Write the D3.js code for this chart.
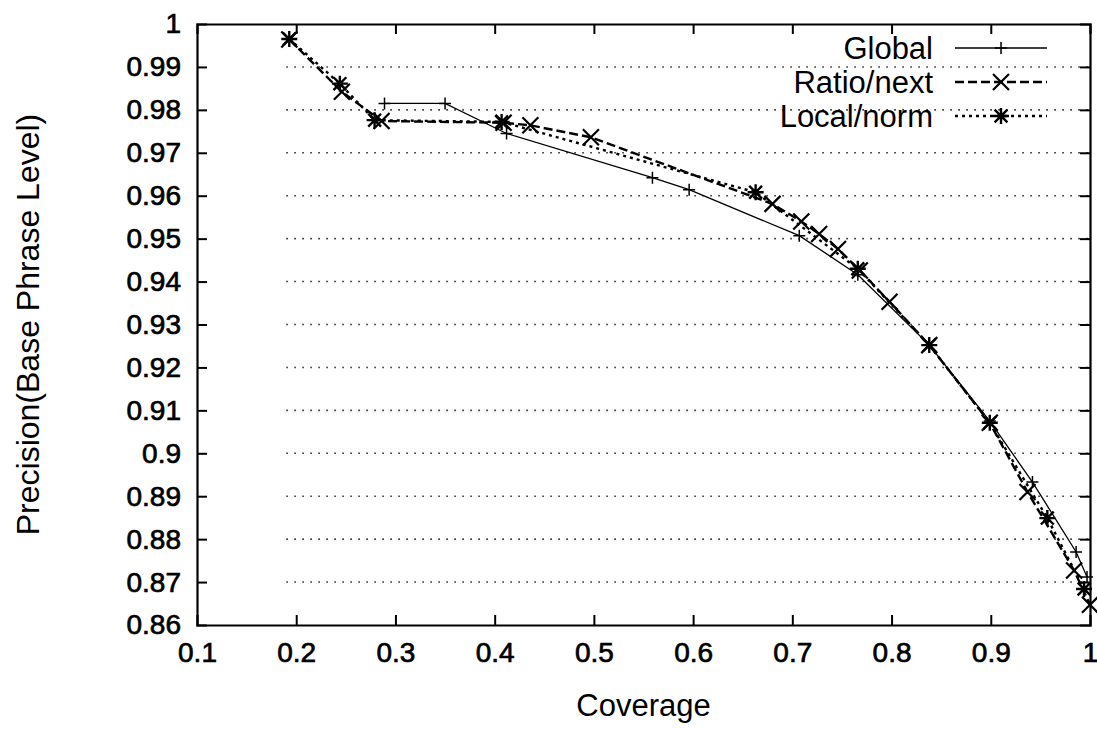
<!DOCTYPE html>
<html>
<head>
<meta charset="utf-8">
<script src="https://cdn.jsdelivr.net/npm/d3@7"></script>
<style>
body { margin: 0; background: #fff; }
text { font-family: "Liberation Sans", Arial, Helvetica, sans-serif; fill: #000; }
</style>
</head>
<body>
<script>
// size of the page
var width = 1097;
var height = 730;

// tick values and labels
var xTicks = [0.1, 0.2, 0.3, 0.4, 0.5, 0.6, 0.7, 0.8, 0.9, 1.0];
var xTickLabels = ["0.1", "0.2", "0.3", "0.4", "0.5", "0.6", "0.7", "0.8", "0.9", "1"];
var yTicks = [0.86, 0.87, 0.88, 0.89, 0.90, 0.91, 0.92, 0.93, 0.94, 0.95, 0.96, 0.97, 0.98, 0.99, 1.0];
var yTickLabels = ["0.86", "0.87", "0.88", "0.89", "0.9", "0.91", "0.92", "0.93", "0.94", "0.95", "0.96", "0.97", "0.98", "0.99", "1"];

// series: [coverage, precision]
var globalPts = [[0.289, 0.9815], [0.350, 0.9815], [0.412, 0.9745], [0.559, 0.9642], [0.596, 0.9614],
	[0.707, 0.9507], [0.766, 0.9416], [0.838, 0.9252], [0.899, 0.9075], [0.942, 0.8933],
	[0.986, 0.8770], [0.997, 0.8712]];
var ratioPts = [[0.193, 0.9964], [0.246, 0.9842], [0.286, 0.9774], [0.409, 0.9770], [0.436, 0.9764],
	[0.497, 0.9736], [0.680, 0.9581], [0.709, 0.9540], [0.727, 0.9511], [0.746, 0.9476],
	[0.768, 0.9426], [0.798, 0.9353], [0.838, 0.9252], [0.899, 0.9071], [0.937, 0.8910],
	[0.984, 0.8727], [1.000, 0.8647]];
var localPts = [[0.193, 0.9965], [0.244, 0.9861], [0.279, 0.9776], [0.407, 0.9772], [0.663, 0.9608],
	[0.766, 0.9430], [0.838, 0.9252], [0.899, 0.9071], [0.957, 0.8849], [0.994, 0.8684]];

var seriesNames = ["Global", "Ratio/next", "Local/norm"];

var svg = d3.select("body")
	.append("svg")
	.attr("width", width)
	.attr("height", height);

var x = d3.scaleLinear().domain([0.1, 1]).range([197, 1090]);
var y = d3.scaleLinear().domain([0.86, 1]).range([625, 24]);

// dotted horizontal grid (starts near 0.19 as in the scan)
svg.append("g")
	.selectAll("line")
	.data(yTicks.slice(1, -1))
	.enter()
	.append("line")
	.attr("x1", x(0.19))
	.attr("x2", x(1))
	.attr("y1", function(d) { return y(d); })
	.attr("y2", function(d) { return y(d); })
	.attr("stroke", "#333")
	.attr("stroke-width", 1.6)
	.attr("stroke-dasharray", "1.6,6.4");

// axes, ticks inward on all sides
var xAxis = d3.axisBottom(x).tickValues(xTicks).tickSize(-10).tickPadding(16)
	.tickFormat(function(d, i) { return xTickLabels[i]; });
var yAxis = d3.axisLeft(y).tickValues(yTicks).tickSize(-10).tickPadding(16)
	.tickFormat(function(d, i) { return yTickLabels[i]; });

var gx = svg.append("g").attr("transform", "translate(0," + y(0.86) + ")").call(xAxis);
var gy = svg.append("g").attr("transform", "translate(" + x(0.1) + ",0)").call(yAxis);
svg.append("g").attr("transform", "translate(0," + y(1) + ")")
	.call(d3.axisTop(x).tickValues(xTicks).tickSize(-10).tickFormat(""));
svg.append("g").attr("transform", "translate(" + x(1) + ",0)")
	.call(d3.axisRight(y).tickValues(yTicks).tickSize(-10).tickFormat(""));

svg.selectAll(".domain").attr("stroke", "#000").attr("stroke-width", 2.2);
svg.selectAll(".tick line").attr("stroke", "#000").attr("stroke-width", 2);
gx.selectAll("text").style("font-size", "28px").attr("dy", "0.75em")
	.attr("stroke", "#000").attr("stroke-width", 0.7);
gy.selectAll("text").style("font-size", "28px")
	.attr("stroke", "#000").attr("stroke-width", 0.7);
// ticks that sit on the border are hidden
svg.selectAll(".tick line").filter(function(d) { return d === 0.1 || d === 1 || d === 0.86; })
	.attr("stroke-width", 0);

// axis titles
svg.append("text")
	.attr("x", (x(0.1) + x(1)) / 2)
	.attr("y", 716)
	.attr("text-anchor", "middle")
	.style("font-size", "31px")
	.text("Coverage");

svg.append("text")
	.attr("transform", "translate(39," + ((y(0.86) + y(1)) / 2) + ") rotate(-90)")
	.attr("text-anchor", "middle")
	.style("font-size", "32px")
	.text("Precision(Base Phrase Level)");

var line = d3.line()
	.x(function(d) { return x(d[0]); })
	.y(function(d) { return y(d[1]); });

// marker shapes (gnuplot style + , x , *)
function plusPath(s) {
	return "M" + (-s) + ",0H" + s + "M0," + (-s) + "V" + s;
}
function crossPath(s) {
	return "M" + (-s) + "," + (-s) + "L" + s + "," + s + "M" + (-s) + "," + s + "L" + s + "," + (-s);
}
function starPath(s) {
	return plusPath(s) + crossPath(s * 0.8);
}

var styles = [
	{ data: globalPts, dash: null, width: 1.3, marker: function() { return plusPath(6); }, mw: 1.5 },
	{ data: ratioPts, dash: "9,4", width: 2.4, marker: function() { return crossPath(8); }, mw: 2.2 },
	{ data: localPts, dash: "3,4", width: 2.4, marker: function() { return starPath(8); }, mw: 2.4 }
];

styles.forEach(function(st) {
	svg.append("path")
		.datum(st.data)
		.attr("d", line)
		.attr("fill", "none")
		.attr("stroke", "#000")
		.attr("stroke-width", st.width)
		.attr("stroke-dasharray", st.dash);

	svg.append("g")
		.selectAll("path")
		.data(st.data)
		.enter()
		.append("path")
		.attr("transform", function(d) { return "translate(" + x(d[0]) + "," + y(d[1]) + ")"; })
		.attr("d", st.marker)
		.attr("stroke", "#000")
		.attr("stroke-width", st.mw)
		.attr("fill", "none");
});

// legend
var legendY = [48, 82, 116];
var legend = svg.append("g");
seriesNames.forEach(function(name, i) {
	var st = styles[i];
	legend.append("text")
		.attr("x", 933)
		.attr("y", legendY[i])
		.attr("dy", "0.35em")
		.attr("text-anchor", "end")
		.style("font-size", "31px")
		.text(name);
	legend.append("line")
		.attr("x1", 955).attr("x2", 1047)
		.attr("y1", legendY[i]).attr("y2", legendY[i])
		.attr("stroke", "#000")
		.attr("stroke-width", st.width)
		.attr("stroke-dasharray", st.dash);
	legend.append("path")
		.attr("transform", "translate(1001," + legendY[i] + ")")
		.attr("d", st.marker)
		.attr("stroke", "#000")
		.attr("stroke-width", st.mw)
		.attr("fill", "none");
});
</script>
</body>
</html>
